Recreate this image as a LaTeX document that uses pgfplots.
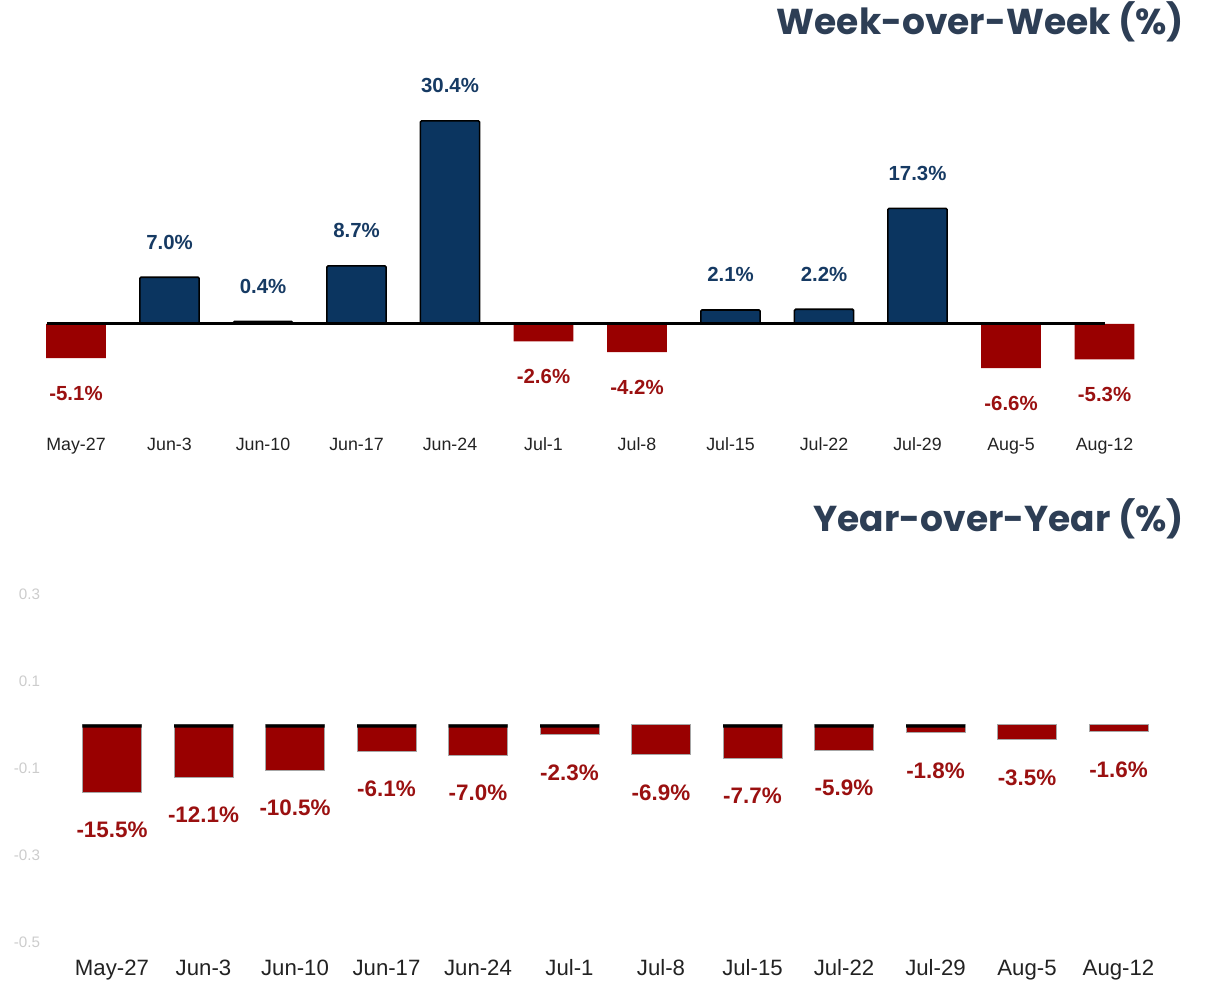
\documentclass[border=0pt]{standalone}
\usepackage{pgfplots}
\pgfplotsset{compat=1.18}
\usepackage{fontspec}
\setmainfont{Liberation Sans}
\newfontfamily\titlefont{Poppins}
\definecolor{navy}{HTML}{0B3560}
\definecolor{navylbl}{HTML}{163A63}
\definecolor{darkred}{HTML}{990000}
\definecolor{redlbl}{HTML}{9A1010}
\definecolor{titlecol}{HTML}{2D3E55}
\definecolor{ticktext}{HTML}{222222}
\pgfplotsset{/pgf/number format/assume math mode=true}
\begin{document}
\begin{tikzpicture}
% ---------------- Week-over-Week ----------------
\begin{axis}[
  scale only axis, width=561pt, height=170.34pt,
  at={(14.625pt,276.06pt)}, anchor=south west,
  xmin=-0.5, xmax=11.5, ymin=-16, ymax=35,
  axis line style={draw=none},
  major tick length=0pt,
  xtick={0,...,11},
  xticklabels={May-27,Jun-3,Jun-10,Jun-17,Jun-24,Jul-1,Jul-8,Jul-15,Jul-22,Jul-29,Aug-5,Aug-12},
  ytick=\empty,
  xticklabel style={anchor=base, yshift=-9.8pt, font=\fontsize{8.9}{10}\selectfont, text=ticktext},
  clip=false,
]
\addplot[ybar, bar shift=0pt, bar width=29.6pt, fill=navy, draw=black, line width=0.8pt, rounded corners=0.6pt,
  nodes near coords={\pgfmathprintnumber[fixed,fixed zerofill,precision=1]{\pgfplotspointmeta}\%},
  every node near coord/.append style={anchor=center, yshift=17.5pt, text=navylbl, font=\bfseries\fontsize{10.2}{12}\selectfont}]
  coordinates {(1,7.0) (2,0.4) (3,8.7) (4,30.4) (7,2.1) (8,2.2) (9,17.3)};
\addplot[ybar, bar shift=0pt, bar width=29.8pt, fill=darkred, draw=none,
  nodes near coords={\pgfmathprintnumber[fixed,fixed zerofill,precision=1]{\pgfplotspointmeta}\%},
  every node near coord/.append style={anchor=center, yshift=-17.5pt, text=redlbl, font=\bfseries\fontsize{10.2}{12}\selectfont}]
  coordinates {(0,-5.1) (5,-2.6) (6,-4.2) (10,-6.6) (11,-5.3)};
\addplot[black, line width=1.5pt] coordinates {(-0.31,0) (11,0)};
\end{axis}
\node[anchor=base east, text=titlecol, font=\titlefont\bfseries\fontsize{18}{21}\selectfont] at (595.5pt,474pt) {Week-over-Week (\%)};
% ---------------- Year-over-Year ----------------
\begin{axis}[
  scale only axis, width=549pt, height=191.4pt,
  at={(33.125pt,13.975pt)}, anchor=south west,
  xmin=-0.5, xmax=11.5, ymin=-53, ymax=35,
  axis line style={draw=none},
  major tick length=0pt,
  xtick={0,...,11},
  xticklabels={May-27,Jun-3,Jun-10,Jun-17,Jun-24,Jul-1,Jul-8,Jul-15,Jul-22,Jul-29,Aug-5,Aug-12},
  ytick={30,10,-10,-30,-50},
  yticklabels={0.3,0.1,-0.1,-0.3,-0.5},
  yticklabel style={anchor=east, inner sep=0pt, xshift=-12.9pt, font=\fontsize{7.6}{9}\selectfont, text=black!20},
  xticklabel style={anchor=base, yshift=-10.475pt, font=\fontsize{11.1}{13}\selectfont, text=ticktext},
  clip=false,
]
\addplot[ybar, bar shift=0pt, bar width=29.5pt, fill=darkred, draw=black!35, line width=0.4pt,
  nodes near coords={\pgfmathprintnumber[fixed,fixed zerofill,precision=1]{\pgfplotspointmeta}\%},
  every node near coord/.append style={anchor=center, yshift=-19pt, text=redlbl, font=\bfseries\fontsize{11.2}{13}\selectfont}]
  coordinates {(0,-15.5) (1,-12.1) (2,-10.5) (3,-6.1) (4,-7.0) (5,-2.3) (6,-6.9) (7,-7.7) (8,-5.9) (9,-1.8) (10,-3.5) (11,-1.6)};
\addplot[ybar, bar shift=0pt, bar width=29.5pt, fill=black, draw=none]
  coordinates {(0,-0.7) (1,-0.7) (2,-0.7) (3,-0.7) (4,-0.7) (5,-0.7) (7,-0.7) (8,-0.7) (9,-0.7)};
\end{axis}
\node[anchor=base east, text=titlecol, font=\titlefont\bfseries\fontsize{18}{21}\selectfont] at (595.5pt,225.5pt) {Year-over-Year (\%)};
\pgfresetboundingbox
\path[use as bounding box] (0,0) rectangle (605pt,491.5pt);
\end{tikzpicture}
\end{document}
